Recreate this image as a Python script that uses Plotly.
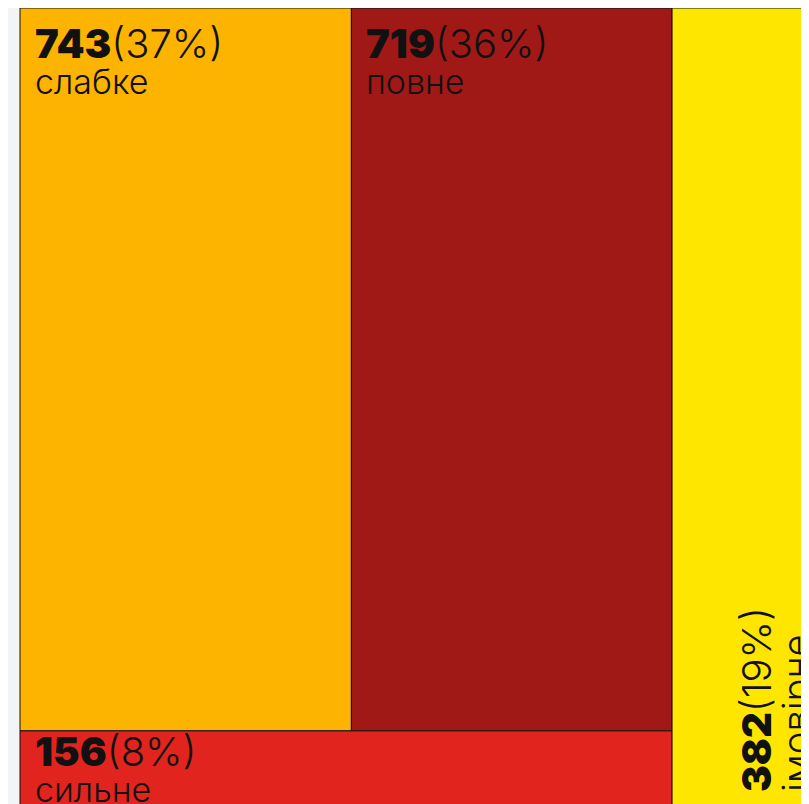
import plotly.graph_objects as go

labels = ["слабке", "повне", "сильне", "імовірне"]
values = [743, 719, 156, 382]
colors = ["#FDB400", "#A11917", "#E2241F", "#FFE600"]

total = sum(values)
pcts = [round(v / total * 100) for v in values]

# treemap tiles computed from the values (unit square)
W, H = 1.0, 1.0
left_sum = values[0] + values[1] + values[2]
left_w = W * left_sum / total
bottom_h = H * values[2] / left_sum
top_split = left_w * values[0] / (values[0] + values[1])
rects = [
    (0, top_split, bottom_h, H),
    (top_split, left_w, bottom_h, H),
    (0, left_w, 0, bottom_h),
    (left_w, W, 0, H),
]

FIG_W, FIG_H = 809, 804
TM_W, TM_H = 806, 800
OFF_X, OFF_Y = 12, 0
xr = [-OFF_X / TM_W, (FIG_W - OFF_X) / TM_W]
yr = [1 - (FIG_H - OFF_Y) / TM_H, 1 + OFF_Y / TM_H]


def px(x):
    return (x - xr[0]) / (xr[1] - xr[0])


def py(y):
    return (y - yr[0]) / (yr[1] - yr[0])


fig = go.Figure()
for (x0, x1, y0, y1), c, lab in zip(rects, colors, labels):
    fig.add_trace(go.Scatter(
        x=[x0, x1, x1, x0, x0], y=[y0, y0, y1, y1, y0],
        mode="lines", fill="toself", fillcolor=c,
        line=dict(color="#111111", width=1),
        hoverinfo="skip", showlegend=False, name=lab,
    ))

FONT = "Inter"
top_pad = [10, 10, -5]  # label padding below each tile's top edge (px)
annotations = []
for i in range(3):
    x0, x1, y0, y1 = rects[i]
    annotations.append(dict(
        x=px(x0), y=py(y1), xref="paper", yref="paper",
        xanchor="left", yanchor="top", xshift=14, yshift=-top_pad[i],
        text=f"<span style='font-weight:900'>{values[i]}</span>({pcts[i]}%)",
        showarrow=False, borderpad=0,
        font=dict(family=FONT, size=40, color="#111111", weight=300),
    ))
    annotations.append(dict(
        x=px(x0), y=py(y1), xref="paper", yref="paper",
        xanchor="left", yanchor="top", xshift=14, yshift=-top_pad[i] - 42,
        text=labels[i],
        showarrow=False, borderpad=0,
        font=dict(family=FONT, size=34, color="#111111", weight=300),
    ))

x0, x1, y0, y1 = rects[3]
annotations.append(dict(
    x=px(x1), y=py(y0), xref="paper", yref="paper",
    xanchor="right", yanchor="bottom", xshift=-44, yshift=15,
    textangle=-90,
    text=f"<span style='font-weight:900'>{values[3]}</span>({pcts[3]}%)",
    showarrow=False, borderpad=0,
    font=dict(family=FONT, size=40, color="#111111", weight=300),
))
annotations.append(dict(
    x=px(x1), y=py(y0), xref="paper", yref="paper",
    xanchor="right", yanchor="bottom", xshift=-6, yshift=15,
    textangle=-90,
    text=labels[3],
    showarrow=False, borderpad=0,
    font=dict(family=FONT, size=38, color="#111111", weight=300),
))

fig.update_layout(
    width=FIG_W, height=FIG_H,
    margin=dict(l=0, r=0, t=0, b=0),
    paper_bgcolor="#F3F4F5", plot_bgcolor="#F3F4F5",
    xaxis=dict(range=xr, visible=False, fixedrange=True),
    yaxis=dict(range=yr, visible=False, fixedrange=True),
    annotations=annotations,
    showlegend=False,
)

fig.write_html("out.html")
